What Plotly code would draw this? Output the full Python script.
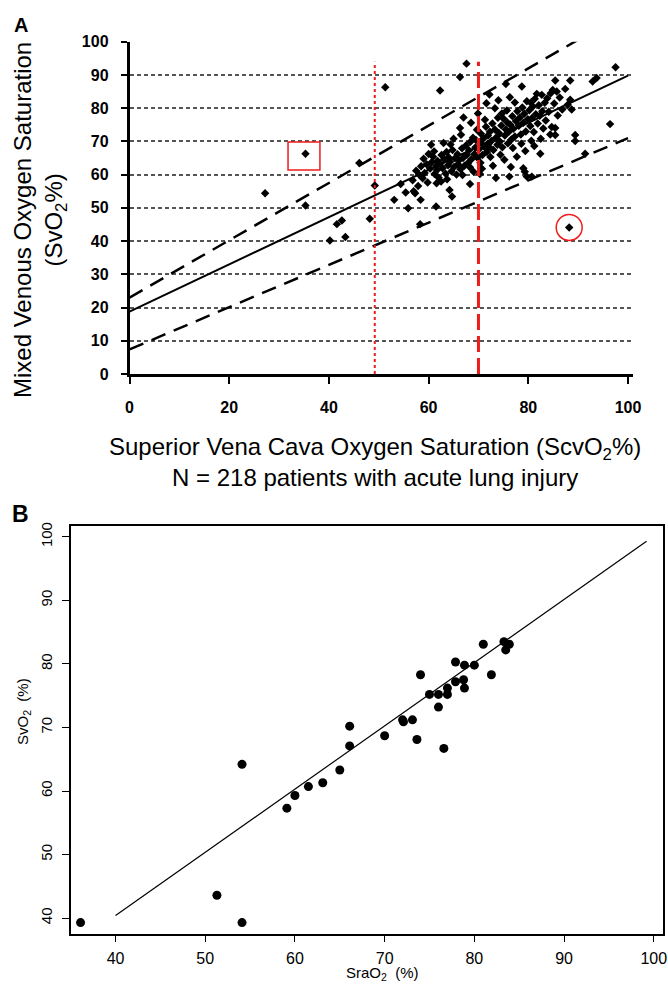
import plotly.graph_objects as go

W, H = 668, 984
FONT = "Liberation Sans, Arial, sans-serif"

# ---------------- Panel A data ----------------
a_scvo2 = [27.2, 35.3, 35.3, 40.2, 41.6, 42.6, 43.3, 46.1, 48.2, 49.2, 51.3, 53.1, 55.4, 55.9,
           57.0, 58.3, 58.4, 61.5, 61.6, 62.3, 64.2, 64.7, 66.3, 67.6, 68.3, 70.3, 73.5, 75.5,
           76.2, 79.7, 82.4, 84.4, 85.4, 88.2, 88.4, 85.4, 89.4, 89.4, 91.4, 92.9, 93.7, 96.4,
           97.5, 88.7, 88.4, 80.7, 79.0, 79.3, 54.4, 57.3, 56.8, 57.5, 57.9, 58.1,
           58.5, 59.0, 59.2, 59.6, 58.8, 60.0, 60.3, 59.8,
           60.6, 60.9, 61.2, 61.5, 61.8, 61.1, 62.0, 62.3, 61.7,
           62.6, 62.8, 63.1, 63.4, 63.6, 63.9, 62.5, 63.7, 64.0,
           64.3, 64.6, 64.8, 65.1, 65.3, 65.6, 65.8, 64.4, 65.9,
           66.1, 66.4, 66.7, 66.9, 67.2, 67.5, 67.7, 66.3, 66.5, 67.9, 66.8,
           68.1, 68.4, 68.6, 68.9, 69.2, 69.4, 69.7, 68.3, 69.8, 69.0, 69.5,
           70.1, 70.3, 70.5, 70.8, 71.0, 71.2, 71.5, 71.7, 71.9, 70.4, 71.3, 70.7, 71.8,
           72.1, 72.3, 72.6, 72.8, 73.0, 73.3, 73.5, 73.8, 73.3, 72.4, 73.9, 72.9,
           74.1, 74.3, 74.6, 74.8, 75.0, 75.3, 75.5, 75.7, 75.9, 74.4, 75.2, 74.7, 75.8,
           76.1, 76.3, 76.4, 76.6, 76.8, 77.0, 77.3, 77.3, 77.5, 77.8, 76.9, 77.7, 76.5,
           78.1, 78.3, 78.7, 78.5, 78.8, 79.0, 79.2, 79.5, 79.7, 79.9, 78.6, 79.4,
           80.2, 80.4, 80.5, 80.7, 80.9, 81.1, 81.3, 81.5, 81.7, 81.9, 80.6, 81.2,
           82.1, 82.3, 82.7, 82.8, 83.0, 83.3, 83.5, 83.8, 82.5,
           84.1, 84.5, 84.7, 84.9, 85.4, 85.7, 85.2, 85.9,
           86.3, 86.8, 87.4, 87.9,
           67.0, 68.5, 69.9, 71.6, 72.2, 74.0, 65.0, 63.0, 60.5]
a_svo2 = [54.4, 66.3, 50.7, 40.2, 45.1, 46.2, 41.2, 63.5, 46.7, 56.7, 86.3, 52.4, 54.6, 49.9,
          55.0, 45.1, 52.4, 50.4, 57.4, 85.3, 55.4, 53.4, 89.4, 93.4, 57.2, 60.2, 59.0, 87.3,
          59.4, 59.4, 66.3, 72.1, 71.9, 44.1, 88.3, 88.3, 71.9, 70.1, 66.3, 88.0, 89.1, 75.2,
          92.3, 79.6, 82.5, 59.4, 61.9, 60.9, 57.2, 54.4, 58.3, 61.2, 56.6, 60.0,
          62.5, 64.8, 60.5, 63.1, 58.9, 66.2, 61.8, 57.6,
          63.7, 65.4, 60.2, 62.6, 64.1, 67.0, 59.1, 63.3, 61.4,
          65.9, 61.9, 64.6, 60.3, 66.8, 62.8, 57.9, 58.6, 65.2,
          63.9, 61.0, 67.4, 62.3, 64.9, 60.0, 66.1, 69.1, 63.1,
          64.3, 61.6, 67.9, 65.0, 62.7, 68.8, 66.0, 74.0, 72.0, 63.5, 59.9,
          67.3, 69.9, 64.6, 71.1, 66.2, 68.2, 73.5, 62.2, 65.1, 60.9, 70.4,
          67.6, 69.7, 72.3, 65.9, 70.9, 68.3, 74.4, 66.8, 71.8, 63.6, 76.5, 61.8, 69.2,
          68.4, 72.9, 70.1, 75.4, 67.4, 73.6, 71.1, 69.0, 80.0, 65.3, 77.1, 62.7,
          72.5, 70.0, 74.8, 68.2, 76.9, 71.8, 73.6, 79.3, 69.4, 66.0, 64.5, 78.4, 75.7,
          72.9, 83.3, 75.0, 70.6, 77.6, 73.8, 71.5, 81.7, 76.1, 79.1, 68.0, 65.4, 62.3,
          74.7, 77.2, 86.5, 72.1, 80.2, 75.6, 78.3, 73.0, 82.1, 76.7, 69.3, 67.1,
          79.4, 74.6, 81.6, 77.0, 80.5, 72.8, 82.8, 78.2, 84.3, 75.4, 70.2, 68.6,
          80.9, 77.7, 84.0, 79.1, 73.9, 81.6, 76.3, 83.0, 70.8,
          78.9, 84.5, 74.3, 85.5, 74.0, 85.0, 81.4, 77.8,
          83.2, 79.6, 85.8, 81.0,
          77.2, 75.6, 78.4, 81.5, 84.1, 82.4, 70.8, 69.5, 69.0]

a_fit_x = [0, 100]
a_fit_y = [18.8, 89.8]
a_upper_y = [23.0, 109.2]
a_lower_y = [7.4, 71.0]
a_xticks = [0, 20, 40, 60, 80, 100]
a_yticks = [0, 10, 20, 30, 40, 50, 60, 70, 80, 90, 100]

# ---------------- Panel B data ----------------
b_srao2 = [36.1, 51.3, 54.1, 54.1, 59.1, 60.0, 61.5, 63.1, 65.0, 66.1, 66.1, 70.0, 72.0, 72.1,
           73.1, 73.6, 74.0, 75.0, 76.0, 76.0, 76.6, 77.0, 77.0, 77.9, 77.9, 78.8, 78.9, 78.9,
           80.0, 81.0, 81.9, 83.3, 83.9, 83.5]
b_svo2 = [39.3, 43.6, 39.3, 64.2, 57.3, 59.3, 60.7, 61.3, 63.3, 67.1, 70.2, 68.7, 71.2, 70.9,
          71.2, 68.1, 78.3, 75.2, 75.2, 73.2, 66.7, 76.2, 75.2, 80.3, 77.2, 77.5, 79.8, 76.2,
          79.8, 83.1, 78.3, 83.5, 83.1, 82.2]
b_fit_x = [40, 99.2]
b_fit_y = [40.4, 99.3]
b_ticks = [40, 50, 60, 70, 80, 90, 100]


def px_x(p):
    return p / W


def px_y(p):
    return 1 - p / H


fig = go.Figure()

# Panel A traces
fig.add_trace(go.Scatter(x=a_fit_x, y=a_upper_y, mode="lines", xaxis="x", yaxis="y",
                         line=dict(color="black", width=2.5, dash="15px,9px"), hoverinfo="skip"))
fig.add_trace(go.Scatter(x=a_fit_x, y=a_lower_y, mode="lines", xaxis="x", yaxis="y",
                         line=dict(color="black", width=2.5, dash="15px,9px"), hoverinfo="skip"))
fig.add_trace(go.Scatter(x=a_fit_x, y=a_fit_y, mode="lines", xaxis="x", yaxis="y",
                         line=dict(color="black", width=2), hoverinfo="skip"))
fig.add_trace(go.Scatter(x=a_scvo2, y=a_svo2, mode="markers", xaxis="x", yaxis="y",
                         marker=dict(symbol="diamond", size=6.5, color="black")))

# Panel B traces
fig.add_trace(go.Scatter(x=b_fit_x, y=b_fit_y, mode="lines", xaxis="x2", yaxis="y2",
                         line=dict(color="black", width=1.2), hoverinfo="skip"))
fig.add_trace(go.Scatter(x=b_srao2, y=b_svo2, mode="markers", xaxis="x2", yaxis="y2",
                         marker=dict(symbol="circle", size=9, color="black")))

shapes = [
    dict(type="line", xref="x", yref="y", x0=49.2, x1=49.2, y0=0, y1=94,
         line=dict(color="#ee1c1c", width=2, dash="dot")),
    dict(type="line", xref="x", yref="y", x0=70, x1=70, y0=0, y1=94,
         line=dict(color="#ee1c1c", width=3, dash="16px,6px")),
    dict(type="rect", xref="x", yref="y", x0=31.8, x1=38.2, y0=61.4, y1=69.8,
         line=dict(color="#ee1c1c", width=1.5)),
    dict(type="circle", xref="x", yref="y", x0=85.6, x1=90.8, y0=40.2, y1=48.0,
         line=dict(color="#ee1c1c", width=1.5)),
]


def ann(text, x, y, size, angle=0):
    return dict(text=text, x=px_x(x), y=px_y(y), xref="paper", yref="paper",
                xanchor="center", yanchor="middle", showarrow=False, textangle=angle,
                font=dict(size=size, family=FONT, color="black"))


annotations = [
    ann("<b>A</b>", 21, 25, 20),
    ann("<b>B</b>", 20, 514, 23),
    ann("Mixed Venous Oxygen Saturation<br>(SvO<sub>2</sub>%)", 40, 220, 24, -90),
    ann("Superior Vena Cava Oxygen Saturation (ScvO<sub>2</sub>%)<br>N = 218 patients with acute lung injury",
        375, 462, 24),
    ann("SvO<sub>2</sub>  (%)", 23, 712, 15, -90),
    ann("SraO<sub>2</sub>  (%)", 382, 973, 15),
]

fig.update_layout(
    width=W, height=H, autosize=False,
    margin=dict(l=0, r=0, t=0, b=0, pad=0, autoexpand=False),
    paper_bgcolor="white", plot_bgcolor="white",
    showlegend=False,
    font=dict(family=FONT, color="black"),
    shapes=shapes,
    annotations=annotations,
    xaxis=dict(domain=[px_x(129.5), px_x(633)], range=[0, 101], anchor="y", automargin=False,
               tickvals=a_xticks, ticks="outside", ticklen=7, tickwidth=2, tickcolor="black",
               showline=True, linecolor="black", linewidth=2.5, showgrid=False, zeroline=False,
               ticklabelstandoff=10,
               tickfont=dict(size=16, family=FONT, color="black", weight="bold")),
    yaxis=dict(domain=[px_y(374), px_y(41.7)], range=[0, 100], anchor="x", automargin=False,
               tickvals=a_yticks, ticks="outside", ticklen=6, tickwidth=2, tickcolor="black",
               showline=True, linecolor="black", linewidth=2.5, showgrid=True,
               gridcolor="#555555", gridwidth=1.5, griddash="4px,3px", zeroline=False,
               ticklabelstandoff=9,
               tickfont=dict(size=16, family=FONT, color="black", weight="bold")),
    xaxis2=dict(domain=[px_x(70.7), px_x(662.7)], range=[35, 101], anchor="y2", automargin=False,
                tickvals=b_ticks, ticks="outside", ticklen=6, tickwidth=1.2, tickcolor="black",
                showline=True, mirror=True, linecolor="black", linewidth=1.8,
                showgrid=False, zeroline=False, ticklabelstandoff=3,
                tickfont=dict(size=16, family=FONT, color="black")),
    yaxis2=dict(domain=[px_y(934), px_y(526)], range=[37.5, 101.7], anchor="x2", automargin=False,
                tickvals=b_ticks, ticks="outside", ticklen=7, tickwidth=1.2, tickcolor="black",
                showline=True, mirror=True, linecolor="black", linewidth=1.8,
                showgrid=False, zeroline=False, tickangle=-90, ticklabelstandoff=4,
                tickfont=dict(size=15, family=FONT, color="black")),
)

fig.write_html(
    "out.html",
    config={"displayModeBar": False},
    post_script="document.body.style.margin='0';document.body.style.padding='0';"
                "document.documentElement.style.overflow='hidden';",
)
